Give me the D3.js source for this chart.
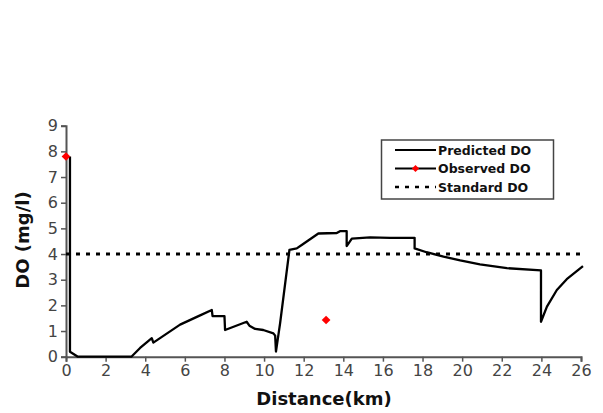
<!DOCTYPE html>
<html><head><meta charset="utf-8">
<script src="https://cdn.jsdelivr.net/npm/d3@7"></script>
<style>body{margin:0;background:#fff}svg{display:block}</style>
</head><body>
<svg id="c" width="603" height="413"></svg>
<script>
const predDist = [0.2,0.2,0.6,3.3,3.74,4.15,4.33,4.41,5.76,6.77,7.36,7.4,8.0,8.03,9.12,9.26,9.55,9.96,10.47,10.56,10.6,10.81,11.28,11.65,11.9,12.74,13.67,13.83,14.17,14.17,14.43,15.35,16.36,17.6,17.6,18.2,19.06,19.9,20.9,22.26,23.98,23.98,24.28,24.78,25.28,26.1];
const predDO   = [7.8,0.19,0.0,0.0,0.34,0.61,0.72,0.55,1.25,1.61,1.82,1.58,1.58,1.04,1.36,1.21,1.08,1.04,0.91,0.82,0.2,1.31,4.16,4.22,4.35,4.8,4.82,4.89,4.89,4.31,4.6,4.65,4.63,4.63,4.22,4.07,3.9,3.75,3.6,3.45,3.36,1.36,1.95,2.6,3.02,3.53];
const obsDist = [0, 13.13];
const obsDO = [7.8, 1.43];
const stdDist = [0, 26];
const stdDO = [4, 4];
const xTicks = [0,2,4,6,8,10,12,14,16,18,20,22,24,26];
const yTicks = [0,1,2,3,4,5,6,7,8,9];
const legendLabels = ["Predicted DO","Observed DO","Standard DO"];

const svg = d3.select("#c");
const x = d3.scaleLinear().domain([0,26]).range([66,581]);
const y = d3.scaleLinear().domain([0,9]).range([356.7,125.7]);

// cut-off caption at top (as in the reference scan)
svg.append("text").attr("x",30).attr("y",-3).attr("font-family","Liberation Serif, serif")
  .attr("font-weight","bold").attr("font-size",14).attr("fill","#222")
  .text("Fig. 6 Predicted and observed DO on River");

const axisColor = "#555";
const xa = svg.append("g").attr("transform","translate(0,356.7)")
  .call(d3.axisBottom(x).tickValues(xTicks).tickSize(5).tickPadding(3));
const ya = svg.append("g").attr("transform","translate(66,0)")
  .call(d3.axisLeft(y).tickValues(yTicks).tickSize(5).tickPadding(3));
[xa,ya].forEach(g=>{
  g.selectAll("path").attr("stroke",axisColor).attr("stroke-width",2);
  g.selectAll("line").attr("stroke",axisColor).attr("stroke-width",1.5);
  g.selectAll("text").attr("font-family","DejaVu Sans, sans-serif").attr("font-size",16).attr("fill","#444");
});

// standard line
svg.append("path").datum(stdDist.map((d,i)=>[d,stdDO[i]]))
  .attr("d",d3.line().x(d=>x(d[0])).y(d=>y(d[1])))
  .attr("stroke","#000").attr("stroke-width",3).attr("stroke-dasharray","4,6").attr("fill","none");

// predicted
svg.append("path").datum(predDist.map((d,i)=>[d,predDO[i]]))
  .attr("d",d3.line().x(d=>x(d[0])).y(d=>y(d[1])))
  .attr("stroke","#000").attr("stroke-width",2.3).attr("fill","none").attr("stroke-linejoin","round");

// observed (square rotated 45deg)
const marker = d3.symbol().type(d3.symbolSquare).size(38);
svg.selectAll(".obs").data(obsDist.map((d,i)=>[d,obsDO[i]])).enter().append("path")
  .attr("d",marker).attr("transform",d=>`translate(${x(d[0])},${y(d[1])}) rotate(45)`).attr("fill","#f00");

// axis titles
svg.append("text").attr("x",324).attr("y",405).attr("text-anchor","middle")
  .attr("font-family","DejaVu Sans, sans-serif").attr("font-weight","bold").attr("font-size",18).attr("fill","#111")
  .text("Distance(km)");
svg.append("text").attr("transform","translate(29,240) rotate(-90)").attr("text-anchor","middle")
  .attr("font-family","DejaVu Sans, sans-serif").attr("font-weight","bold").attr("font-size",18).attr("fill","#111")
  .text("DO (mg/l)");

// legend
const lg = svg.append("g");
lg.append("rect").attr("x",381.5).attr("y",140).attr("width",172).attr("height",59)
  .attr("fill","#fff").attr("stroke","#444").attr("stroke-width",1.5);
const rows = [150,168.5,187];
const legendMarker = d3.symbol().type(d3.symbolSquare).size(26);
legendLabels.forEach((t,i)=>{
  const ln = lg.append("line").attr("x1",395).attr("x2",436).attr("y1",rows[i]).attr("y2",rows[i])
    .attr("stroke","#000").attr("stroke-width",2);
  if(i===2) ln.attr("stroke-width",2.5).attr("stroke-dasharray","4,6");
  if(i===1) lg.append("path").attr("d",legendMarker).attr("transform",`translate(415.5,${rows[i]}) rotate(45)`).attr("fill","#f00");
  lg.append("text").attr("x",438).attr("y",rows[i]+4.5).attr("font-family","DejaVu Sans, sans-serif")
    .attr("font-weight","bold").attr("font-size",12.5).attr("fill","#111").text(t);
});
</script>
</body></html>
